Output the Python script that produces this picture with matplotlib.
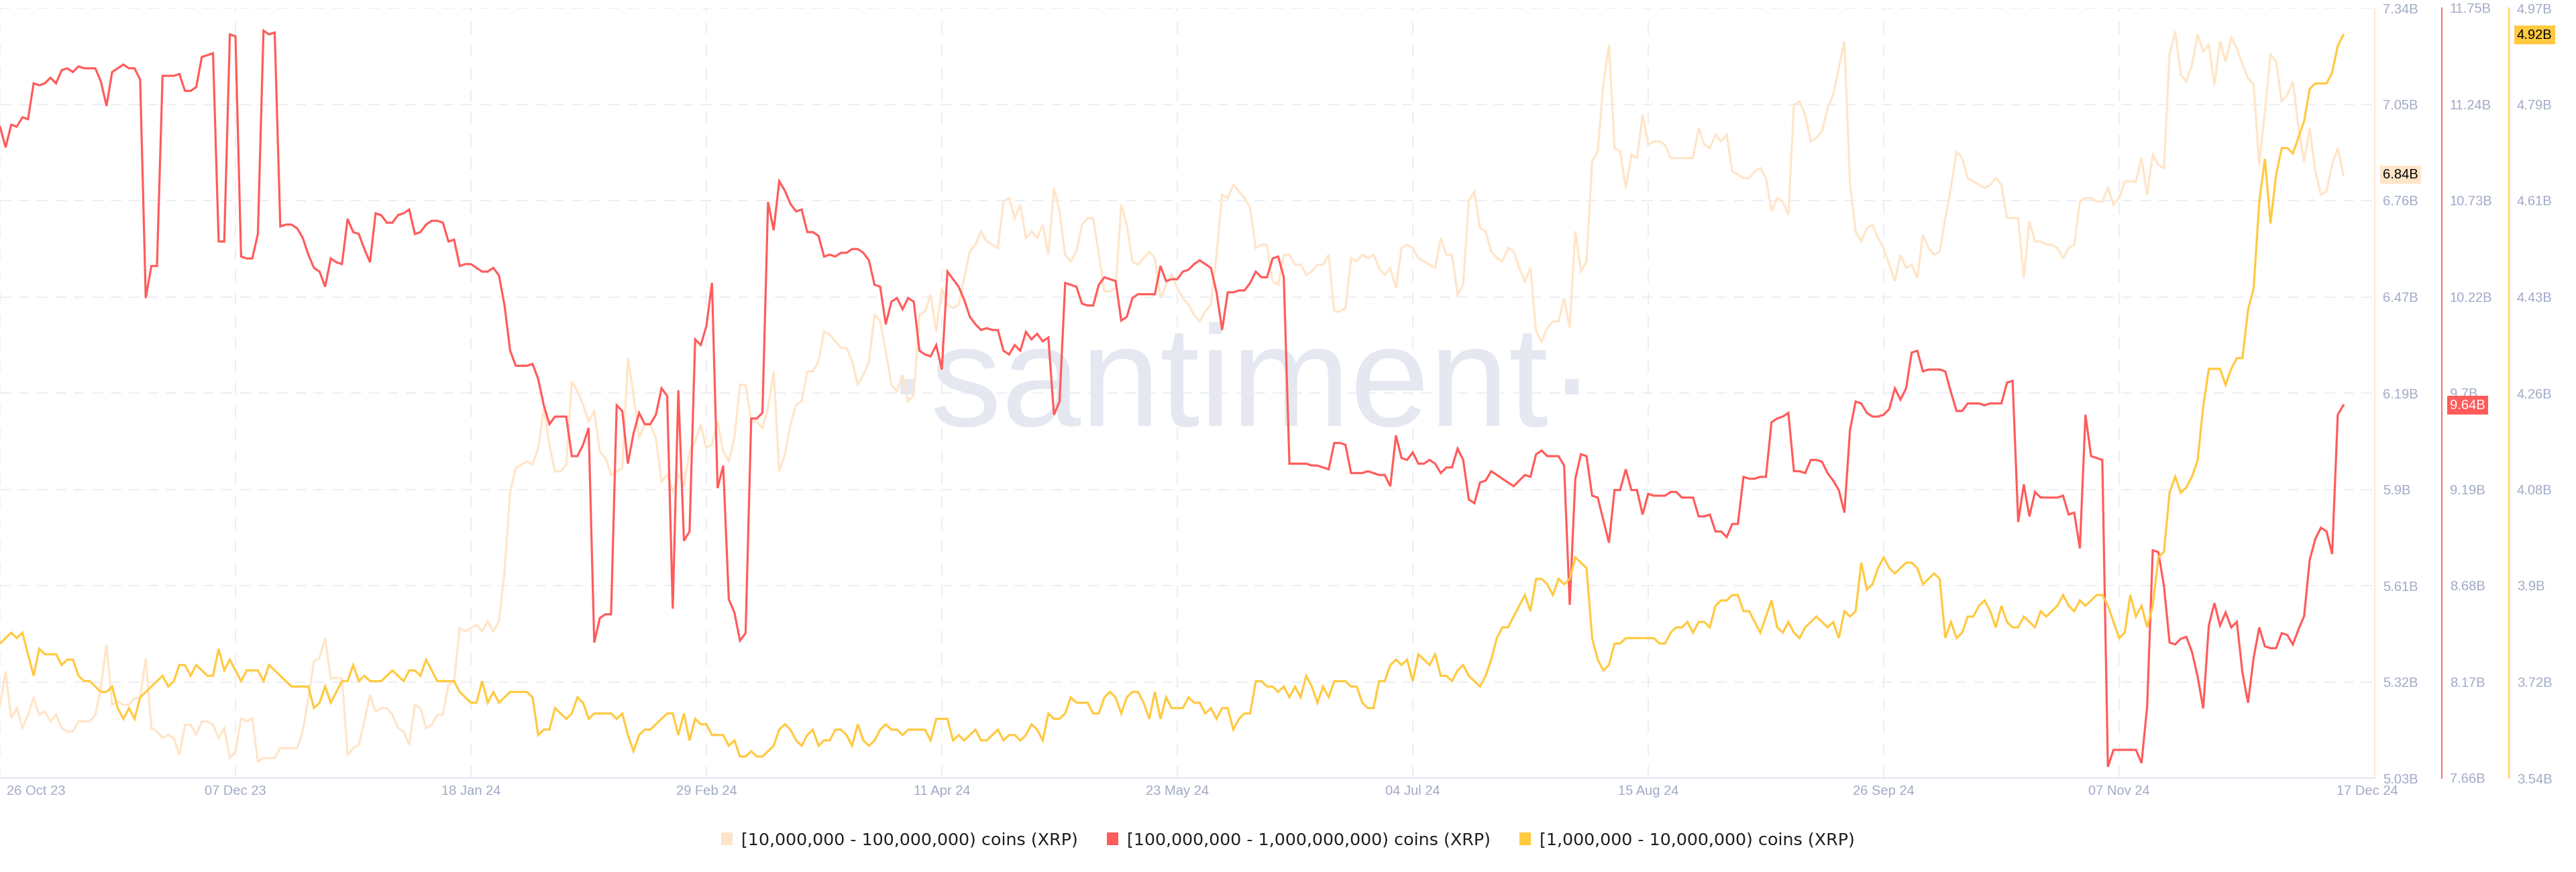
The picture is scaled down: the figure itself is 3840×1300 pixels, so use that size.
import numpy as np
import pandas as pd
import matplotlib
matplotlib.use("Agg")
import matplotlib.pyplot as plt
from matplotlib.patches import Patch
from matplotlib.transforms import ScaledTranslation, blended_transform_factory

plt.rcParams['font.family'] = ['Liberation Sans', 'DejaVu Sans']

# ---------------- data (billions of XRP held per cohort, daily) ----------------
start_date = "2023-10-26"
n_days = 419

holders_10m_100m = [  # peach
    5.25, 5.35, 5.21, 5.24, 5.18, 5.22, 5.27, 5.22, 5.23, 5.20,
    5.22, 5.18, 5.17, 5.17, 5.20, 5.20, 5.20, 5.22, 5.30, 5.43,
    5.25, 5.26, 5.25, 5.25, 5.27, 5.27, 5.39, 5.18, 5.17, 5.15,
    5.16, 5.15, 5.10, 5.19, 5.19, 5.16, 5.20, 5.20, 5.19, 5.15,
    5.18, 5.09, 5.11, 5.21, 5.20, 5.21, 5.08, 5.09, 5.09, 5.09,
    5.12, 5.12, 5.12, 5.12, 5.17, 5.27, 5.38, 5.39, 5.45, 5.33,
    5.33, 5.33, 5.10, 5.12, 5.13, 5.20, 5.28, 5.23, 5.24, 5.24,
    5.22,
    5.18, 5.17, 5.13, 5.25, 5.24, 5.18, 5.19, 5.22, 5.22,
    5.31, 5.32, 5.48, 5.47, 5.48, 5.49, 5.47, 5.50, 5.47, 5.50,
    5.65, 5.89, 5.96, 5.97, 5.98, 5.97, 6.02, 6.14, 6.03, 5.95,
    5.95, 5.97, 6.22, 6.19, 6.15, 6.10, 6.13, 6.01, 5.99, 5.94,
    5.95, 5.96, 6.29, 6.18, 6.05, 6.09, 6.09, 6.05, 5.92, 5.94,
    5.89, 5.94, 5.91, 6.01, 6.04, 6.09, 6.02, 6.03, 6.10, 6.01,
    5.98, 6.05, 6.21, 6.21, 6.10, 6.10, 6.08, 6.14, 6.25, 5.95,
    6.00, 6.09,
    6.15, 6.16, 6.25, 6.25, 6.28, 6.37, 6.36, 6.34,
    6.32, 6.32, 6.28, 6.21, 6.24, 6.28, 6.42, 6.40, 6.31, 6.21,
    6.19, 6.24, 6.16, 6.18, 6.42, 6.43, 6.48, 6.37, 6.50, 6.45,
    6.44, 6.45, 6.53, 6.61, 6.63, 6.67, 6.64, 6.63, 6.62, 6.76,
    6.77, 6.71, 6.75, 6.65, 6.67, 6.65, 6.69, 6.60, 6.80, 6.73,
    6.60, 6.58, 6.61, 6.69, 6.71, 6.71, 6.60, 6.49, 6.49, 6.50,
    6.75, 6.69, 6.58, 6.57, 6.59, 6.61, 6.59, 6.47, 6.51, 6.54,
    6.50, 6.47,
    6.45, 6.42, 6.40, 6.43, 6.45, 6.60, 6.78, 6.77,
    6.81, 6.79, 6.77, 6.74, 6.62, 6.63, 6.63, 6.52, 6.51, 6.60,
    6.60, 6.57, 6.57, 6.54, 6.55, 6.57, 6.57, 6.60, 6.43, 6.43,
    6.44, 6.59, 6.58, 6.60, 6.59, 6.60, 6.56, 6.54, 6.56, 6.50,
    6.62, 6.63, 6.62, 6.59, 6.58, 6.57, 6.56, 6.65, 6.60, 6.60,
    6.48, 6.51, 6.76, 6.79, 6.68, 6.67, 6.61, 6.59, 6.58, 6.62,
    6.61, 6.56, 6.52, 6.56, 6.37, 6.34, 6.38, 6.40, 6.40, 6.47,
    6.38, 6.67, 6.55,
    6.58, 6.88, 6.91, 7.11, 7.23, 6.92, 6.91,
    6.80, 6.90, 6.89, 7.02, 6.93, 6.94, 6.94, 6.93, 6.89, 6.89,
    6.89, 6.89, 6.89, 6.98, 6.93, 6.92, 6.96, 6.94, 6.96, 6.85,
    6.84, 6.83, 6.83, 6.85, 6.86, 6.83, 6.73, 6.77, 6.76, 6.72,
    7.05, 7.06, 7.02, 6.94, 6.95, 6.97, 7.04, 7.08, 7.16, 7.24,
    6.81, 6.67, 6.64, 6.68, 6.69, 6.65, 6.62, 6.57, 6.52, 6.60,
    6.56, 6.57, 6.53, 6.66, 6.62, 6.60, 6.61, 6.71, 6.80, 6.91,
    6.89, 6.83, 6.82,
    6.81, 6.80, 6.81, 6.83, 6.81, 6.71, 6.71,
    6.71, 6.53, 6.70, 6.64, 6.64, 6.63, 6.63, 6.62, 6.59, 6.62,
    6.63, 6.76, 6.77, 6.77, 6.76, 6.76, 6.80, 6.75, 6.77, 6.82,
    6.82, 6.82, 6.89, 6.78, 6.90, 6.87, 6.86, 7.20, 7.27, 7.14,
    7.12, 7.17, 7.26, 7.21, 7.23, 7.11, 7.24, 7.18, 7.25, 7.22,
    7.17, 7.13, 7.11, 6.87, 7.03, 7.20, 7.18, 7.06, 7.08, 7.12,
    6.98, 6.88, 6.98, 6.85, 6.78, 6.79, 6.87, 6.92, 6.84,
]

holders_100m_1b = [  # red
    11.12, 11.01, 11.13, 11.12, 11.17, 11.16, 11.35, 11.34, 11.35, 11.38,
    11.35, 11.42, 11.43, 11.41, 11.44, 11.43, 11.43, 11.43, 11.36, 11.23,
    11.41, 11.43, 11.45, 11.43, 11.43, 11.37, 10.21, 10.38, 10.38, 11.39,
    11.39, 11.39, 11.40, 11.31, 11.31, 11.33, 11.49, 11.50, 11.51, 10.51,
    10.51, 11.61, 11.60, 10.43, 10.42, 10.42, 10.55, 11.63, 11.61, 11.62,
    10.59, 10.60, 10.60, 10.58, 10.53, 10.44, 10.37, 10.35, 10.27, 10.42,
    10.40, 10.39, 10.63, 10.56, 10.55, 10.47, 10.40, 10.66, 10.65, 10.61,
    10.61,
    10.65, 10.66, 10.68, 10.55, 10.56, 10.60, 10.62, 10.62, 10.61,
    10.51, 10.52, 10.38, 10.39, 10.39, 10.37, 10.35, 10.35, 10.37, 10.33,
    10.17, 9.93, 9.85, 9.85, 9.85, 9.86, 9.78, 9.64, 9.54, 9.58,
    9.58, 9.58, 9.37, 9.37, 9.43, 9.52, 8.38, 8.51, 8.53, 8.53,
    9.64, 9.61, 9.33, 9.49, 9.60, 9.54, 9.54, 9.59, 9.73, 9.69,
    8.56, 9.72, 8.92, 8.97, 9.99, 9.96, 10.06, 10.29, 9.20, 9.32,
    8.61, 8.54, 8.39, 8.43, 9.57, 9.57, 9.60, 10.72, 10.57, 10.83,
    10.78, 10.71,
    10.67, 10.68, 10.56, 10.56, 10.54, 10.43, 10.44, 10.43,
    10.45, 10.45, 10.47, 10.47, 10.45, 10.41, 10.28, 10.27, 10.07, 10.19,
    10.21, 10.15, 10.21, 10.19, 9.93, 9.91, 9.90, 9.96, 9.83, 10.35,
    10.31, 10.27, 10.20, 10.11, 10.07, 10.04, 10.05, 10.04, 10.04, 9.93,
    9.91, 9.96, 9.93, 10.03, 9.99, 10.02, 9.98, 10.00, 9.59, 9.66,
    10.29, 10.28, 10.27, 10.18, 10.17, 10.17, 10.28, 10.32, 10.31, 10.30,
    10.09, 10.11, 10.21, 10.23, 10.23, 10.23, 10.23, 10.38, 10.30, 10.31,
    10.31, 10.35,
    10.36, 10.39, 10.41, 10.39, 10.37, 10.24, 10.04, 10.24,
    10.24, 10.25, 10.25, 10.29, 10.35, 10.32, 10.32, 10.42, 10.43, 10.32,
    9.33, 9.33, 9.33, 9.33, 9.32, 9.32, 9.31, 9.30, 9.44, 9.44,
    9.43, 9.28, 9.28, 9.28, 9.29, 9.28, 9.27, 9.27, 9.21, 9.48,
    9.36, 9.35, 9.39, 9.33, 9.33, 9.35, 9.33, 9.28, 9.31, 9.31,
    9.41, 9.35, 9.14, 9.12, 9.23, 9.24, 9.29, 9.27, 9.25, 9.23,
    9.21, 9.24, 9.27, 9.26, 9.38, 9.40, 9.37, 9.37, 9.37, 9.32,
    8.58, 9.25, 9.38,
    9.37, 9.16, 9.15, 9.03, 8.91, 9.19, 9.19,
    9.30, 9.19, 9.19, 9.06, 9.17, 9.16, 9.16, 9.16, 9.18, 9.18,
    9.15, 9.15, 9.15, 9.05, 9.05, 9.06, 8.97, 8.97, 8.94, 9.01,
    9.01, 9.26, 9.25, 9.25, 9.26, 9.26, 9.55, 9.57, 9.58, 9.60,
    9.29, 9.29, 9.28, 9.35, 9.35, 9.34, 9.28, 9.24, 9.19, 9.07,
    9.51, 9.66, 9.65, 9.60, 9.58, 9.58, 9.59, 9.62, 9.73, 9.67,
    9.73, 9.92, 9.93, 9.82, 9.83, 9.83, 9.83, 9.82, 9.71, 9.61,
    9.61, 9.65, 9.65,
    9.65, 9.64, 9.65, 9.65, 9.65, 9.76, 9.77,
    9.02, 9.22, 9.05, 9.18, 9.15, 9.15, 9.15, 9.15, 9.16, 9.06,
    9.07, 8.88, 9.59, 9.37, 9.36, 9.35, 7.72, 7.81, 7.81, 7.81,
    7.81, 7.81, 7.74, 8.04, 8.87, 8.86, 8.68, 8.38, 8.37, 8.40,
    8.41, 8.33, 8.20, 8.03, 8.47, 8.59, 8.47, 8.54, 8.46, 8.49,
    8.22, 8.06, 8.30, 8.46, 8.36, 8.35, 8.35, 8.43, 8.42, 8.37,
    8.45, 8.52, 8.82, 8.93, 8.99, 8.97, 8.85, 9.59, 9.64,
]

holders_1m_10m = [  # yellow
    3.79, 3.80, 3.81, 3.80, 3.81, 3.77, 3.73, 3.78, 3.77, 3.77,
    3.77, 3.75, 3.76, 3.76, 3.73, 3.72, 3.72, 3.71, 3.70, 3.70,
    3.71, 3.67, 3.65, 3.67, 3.65, 3.69, 3.70, 3.71, 3.72, 3.73,
    3.71, 3.72, 3.75, 3.75, 3.73, 3.75, 3.74, 3.73, 3.73, 3.78,
    3.74, 3.76, 3.74, 3.72, 3.74, 3.74, 3.74, 3.72, 3.75, 3.74,
    3.73, 3.72, 3.71, 3.71, 3.71, 3.71, 3.67, 3.68, 3.71, 3.68,
    3.70, 3.72, 3.72, 3.75, 3.72, 3.73, 3.72, 3.72, 3.72, 3.73,
    3.74,
    3.73, 3.72, 3.74, 3.74, 3.73, 3.76, 3.74, 3.72, 3.72,
    3.72, 3.72, 3.70, 3.69, 3.68, 3.68, 3.72, 3.68, 3.70, 3.68,
    3.69, 3.70, 3.70, 3.70, 3.70, 3.69, 3.62, 3.63, 3.63, 3.67,
    3.66, 3.65, 3.66, 3.69, 3.68, 3.65, 3.66, 3.66, 3.66, 3.66,
    3.65, 3.66, 3.62, 3.59, 3.62, 3.63, 3.63, 3.64, 3.65, 3.66,
    3.66, 3.62, 3.66, 3.61, 3.65, 3.64, 3.64, 3.62, 3.62, 3.62,
    3.60, 3.61, 3.58, 3.58, 3.59, 3.58, 3.58, 3.59, 3.60, 3.63,
    3.64, 3.63,
    3.61, 3.60, 3.62, 3.63, 3.60, 3.61, 3.61, 3.63,
    3.63, 3.62, 3.60, 3.64, 3.61, 3.60, 3.61, 3.63, 3.64, 3.63,
    3.63, 3.62, 3.63, 3.63, 3.63, 3.63, 3.61, 3.65, 3.65, 3.65,
    3.61, 3.62, 3.61, 3.62, 3.63, 3.61, 3.61, 3.62, 3.63, 3.61,
    3.62, 3.62, 3.61, 3.62, 3.64, 3.63, 3.61, 3.66, 3.65, 3.65,
    3.66, 3.69, 3.68, 3.68, 3.68, 3.66, 3.66, 3.69, 3.70, 3.69,
    3.66, 3.69, 3.70, 3.70, 3.68, 3.65, 3.70, 3.65, 3.69, 3.67,
    3.67, 3.67,
    3.69, 3.68, 3.68, 3.66, 3.67, 3.65, 3.67, 3.67,
    3.63, 3.65, 3.66, 3.66, 3.72, 3.72, 3.71, 3.71, 3.70, 3.71,
    3.69, 3.71, 3.69, 3.73, 3.71, 3.68, 3.71, 3.69, 3.72, 3.72,
    3.72, 3.71, 3.71, 3.68, 3.67, 3.67, 3.72, 3.72, 3.75, 3.76,
    3.75, 3.76, 3.72, 3.77, 3.76, 3.75, 3.77, 3.73, 3.73, 3.72,
    3.74, 3.75, 3.73, 3.72, 3.71, 3.73, 3.76, 3.80, 3.82, 3.82,
    3.84, 3.86, 3.88, 3.85, 3.91, 3.91, 3.90, 3.88, 3.91, 3.90,
    3.91, 3.95, 3.94,
    3.93, 3.80, 3.76, 3.74, 3.75, 3.79, 3.79,
    3.80, 3.80, 3.80, 3.80, 3.80, 3.80, 3.79, 3.79, 3.81, 3.82,
    3.82, 3.83, 3.81, 3.83, 3.83, 3.82, 3.86, 3.87, 3.87, 3.88,
    3.88, 3.85, 3.85, 3.83, 3.81, 3.84, 3.87, 3.82, 3.81, 3.83,
    3.81, 3.80, 3.82, 3.83, 3.84, 3.83, 3.82, 3.83, 3.80, 3.85,
    3.84, 3.85, 3.94, 3.89, 3.90, 3.93, 3.95, 3.93, 3.92, 3.93,
    3.94, 3.94, 3.93, 3.90, 3.91, 3.92, 3.91, 3.80, 3.83, 3.80,
    3.81, 3.84, 3.84,
    3.86, 3.87, 3.85, 3.82, 3.86, 3.83, 3.82,
    3.82, 3.84, 3.83, 3.82, 3.85, 3.84, 3.85, 3.86, 3.88, 3.86,
    3.85, 3.87, 3.86, 3.87, 3.88, 3.88, 3.86, 3.83, 3.80, 3.81,
    3.88, 3.84, 3.86, 3.82, 3.86, 3.95, 3.96, 4.07, 4.10, 4.07,
    4.08, 4.10, 4.13, 4.23, 4.30, 4.30, 4.30, 4.27, 4.30, 4.32,
    4.32, 4.41, 4.45, 4.61, 4.69, 4.57, 4.66, 4.71, 4.71, 4.70,
    4.73, 4.76, 4.82, 4.83, 4.83, 4.83, 4.85, 4.90, 4.92,
]

series_names = [
    "[10,000,000 - 100,000,000) coins (XRP)",
    "[100,000,000 - 1,000,000,000) coins (XRP)",
    "[1,000,000 - 10,000,000) coins (XRP)",
]

peach_range = (5.03, 7.34)
red_range = (7.66, 11.75)
yellow_range = (3.54, 4.97)
peach_tick_labels = ["5.03B", "5.32B", "5.61B", "5.9B", "6.19B", "6.47B", "6.76B", "7.05B", "7.34B"]
red_tick_labels = ["7.66B", "8.17B", "8.68B", "9.19B", "9.7B", "10.22B", "10.73B", "11.24B", "11.75B"]
yellow_tick_labels = ["3.54B", "3.72B", "3.9B", "4.08B", "4.26B", "4.43B", "4.61B", "4.79B", "4.97B"]

xtick_dates = ["2023-10-26", "2023-12-07", "2024-01-18", "2024-02-29", "2024-04-11",
               "2024-05-23", "2024-07-04", "2024-08-15", "2024-09-26", "2024-11-07", "2024-12-17"]
xtick_labels = ["26 Oct 23", "07 Dec 23", "18 Jan 24", "29 Feb 24", "11 Apr 24",
                "23 May 24", "04 Jul 24", "15 Aug 24", "26 Sep 24", "07 Nov 24", "17 Dec 24"]

# ---------------- style ----------------
PEACH = "#ffe5c8"
RED = "#ff5b5b"
YELLOW = "#ffc940"
TICK = "#a0a9c6"
GRID = "#e7e9f2"
W, H = 3840, 1300

dates = pd.date_range(start_date, periods=n_days, freq="D")

fig = plt.figure(figsize=(W / 100, H / 100), dpi=100)
fig.patch.set_facecolor("white")
plot_left, plot_right, plot_top, plot_bottom = 0, 3540, 12, 1160
ax = fig.add_axes([plot_left / W, 1 - plot_bottom / H,
                   (plot_right - plot_left) / W, (plot_bottom - plot_top) / H])

ax.set_xlim(dates[0], dates[0] + pd.Timedelta(days=423.6))

# watermark
ax.text(1848 / 3540, (1160 - 635) / 1148, "\u00b7santiment\u00b7", transform=ax.transAxes,
        ha="center", va="baseline", fontsize=153, color="#e5e8f1", zorder=1,
        family=["Liberation Sans", "DejaVu Sans"])

lw = 2.3
ax.plot(dates, holders_10m_100m, color=PEACH, lw=lw, zorder=3, solid_joinstyle="miter")
ax.set_ylim(*peach_range)

ax2 = ax.twinx()
ax2.plot(dates, holders_100m_1b, color=RED, lw=lw, zorder=3, solid_joinstyle="miter")
ax2.set_ylim(*red_range)

ax3 = ax.twinx()
ax3.plot(dates, holders_1m_10m, color=YELLOW, lw=lw, zorder=3, solid_joinstyle="miter")
ax3.set_ylim(*yellow_range)

# y axes
for a, rng, labels, col, pos in [(ax, peach_range, peach_tick_labels, PEACH, 1.0),
                                 (ax2, red_range, red_tick_labels, RED, 3640 / 3540),
                                 (ax3, yellow_range, yellow_tick_labels, YELLOW, 3740 / 3540)]:
    a.yaxis.tick_right()
    a.set_yticks(np.linspace(rng[0], rng[1], 9))
    a.set_yticklabels(labels)
    a.tick_params(axis="y", length=0, pad=8.5, labelsize=14.5, labelcolor=TICK)
    for s in ["left", "top"]:
        a.spines[s].set_visible(False)
    a.spines["right"].set_position(("axes", pos))
    a.spines["right"].set_color(col)
    a.spines["right"].set_linewidth(1.3)
    if a is not ax:
        a.spines["bottom"].set_visible(False)

ax.spines["bottom"].set_color("#e3e7f0")
ax.spines["bottom"].set_linewidth(1.6)

# grid
ax.set_axisbelow(True)
ax.yaxis.grid(True, color=GRID, lw=1.1, linestyle=(0, (10.5, 7.5)))
for d in xtick_dates[:-1]:
    ax.axvline(pd.Timestamp(d), color=GRID, lw=1.1, linestyle=(0, (12, 10)), zorder=0.5)

# x axis
ax.set_xticks(pd.to_datetime(xtick_dates))
ax.set_xticklabels(xtick_labels)
ax.tick_params(axis="x", length=0, pad=7, labelsize=14.5, labelcolor=TICK)
xl = ax.get_xticklabels()
xl[0].set_ha("left")
xl[0].set_transform(xl[0].get_transform() + ScaledTranslation(10 / 100, 0, fig.dpi_scale_trans))
xl[-1].set_transform(xl[-1].get_transform() + ScaledTranslation(36 / 100, 0, fig.dpi_scale_trans))

# last-value badges
for a, series, col, tcol, pos in [(ax, holders_10m_100m, PEACH, "black", 1.0),
                                  (ax2, holders_100m_1b, RED, "white", 3640 / 3540),
                                  (ax3, holders_1m_10m, YELLOW, "black", 3740 / 3540)]:
    trans = blended_transform_factory(a.transAxes, a.transData)
    a.text(pos + 12 / 3540, series[-1], f"{series[-1]:.2f}B", transform=trans,
           ha="left", va="center", fontsize=14.5, color=tcol, zorder=10, clip_on=False,
           bbox=dict(boxstyle="square,pad=0.22", fc=col, ec="none"))

# legend
handles = [Patch(facecolor=c, edgecolor="none") for c in [PEACH, RED, YELLOW]]
fig.legend(handles, series_names, loc="center", bbox_to_anchor=(1920 / W, 1 - 1252 / H),
           ncol=3, frameon=False, prop={"family": ["DejaVu Sans"], "size": 18.3},
           handlelength=0.68, handleheight=0.76, handletextpad=0.5, columnspacing=1.7,
           labelcolor="#1c1d21")

fig.savefig("out.png", dpi=100, facecolor="white")
